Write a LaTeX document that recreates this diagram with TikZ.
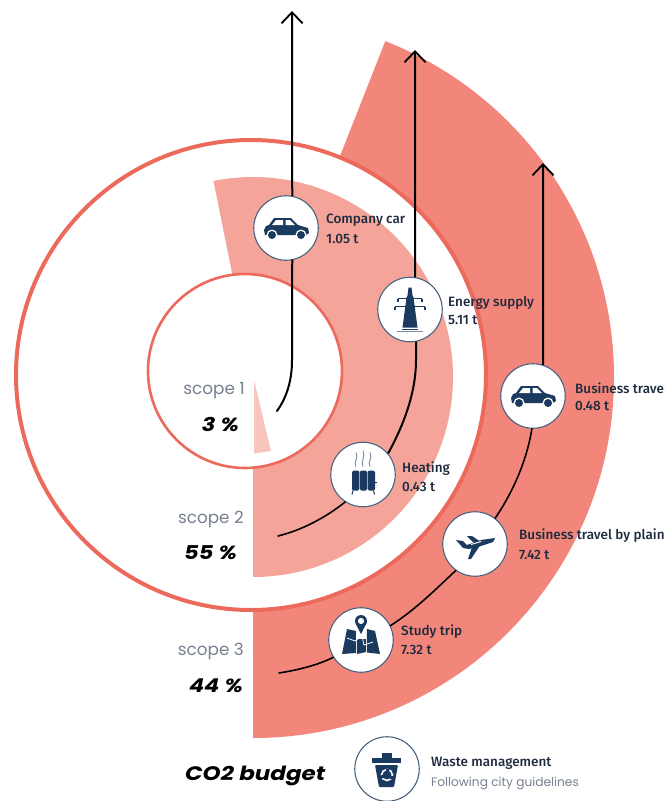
\documentclass[tikz,border=0pt]{standalone}
\usepackage{fontspec}
\usetikzlibrary{arrows.meta}
\newfontfamily\lblfont[UprightFont=* Medium]{Fira Sans}
\newfontfamily\popfont{Poppins}
\newfontfamily\popwide[FakeStretch=1.18]{Poppins}
\definecolor{navy}{HTML}{1B3A5F}
\definecolor{ringc}{HTML}{EC6A5C}
\definecolor{scopeA}{HTML}{F8C4BE}
\definecolor{scopeB}{HTML}{F5A49A}
\definecolor{scopeC}{HTML}{F3867A}
\definecolor{greytxt}{HTML}{76808F}
\definecolor{lbltxt}{HTML}{1E2B3E}
\tikzset{
  badge/.style={circle,draw=navy!80!white,line width=1.1pt,fill=white,minimum size=64.5pt,inner sep=0pt},
  lbl/.style={anchor=base west,inner sep=0pt,text=lbltxt,font=\lblfont\fontsize{13.5}{13.5}\selectfont},
  scopelbl/.style={anchor=base east,inner sep=0pt,text=greytxt,font=\popfont\fontsize{16.8}{16.8}\selectfont},
  pct/.style={anchor=base east,inner sep=0pt,text=black,font=\popwide\bfseries\itshape\fontsize{19}{19}\selectfont},
  thickline/.style={draw=black,line width=2pt},
  thinline/.style={draw=black,line width=1.6pt,line cap=round},
  arrowline/.style={thickline,-{Straight Barb[length=11pt,width=21pt,line width=1.8pt]}},
  carIcon/.pic={
    \fill[navy] (-22,2) -- (-20,-2) -- (-17,-3) -- (-12,-10) -- (5,-10) -- (12,-3) -- (22,0) -- (23,5) -- (20,7) -- (-21,7) -- cycle;
    \fill[white] (-10,-8) -- (-3,-8) -- (-3,-3) -- (-14,-3) -- cycle;
    \fill[white] (-0.5,-8) -- (4,-8) -- (9,-3) -- (-0.5,-3) -- cycle;
    \fill[white] (-14,7) circle[radius=5.5] (15,7) circle[radius=5.5];
    \fill[navy] (-14,7) circle[radius=4] (15,7) circle[radius=4];
  },
  pylonIcon/.pic={
    \fill[navy] (-1.5,-22) -- (1.5,-22) -- (2.5,-14) -- (3.5,-12) -- (7.5,18) -- (-7.5,18) -- (-3.5,-12) -- (-2.5,-14) -- cycle;
    \draw[navy,line width=1.2pt] (-12,-11) -- (12,-11) (-12,-11) -- (-12,-8) (12,-11) -- (12,-8)
      (-15,-3) -- (15,-3) (-15,-3) -- (-15,0) (15,-3) -- (15,0);
    \draw[navy!60!white,line width=1pt] (-13,21.5) -- (13,21.5);
    \draw[navy,line width=1pt] (-8,19.5) -- (8,19.5);
  },
  radIcon/.pic={
    \fill[navy,rounded corners=1.5pt] (-11,-4) rectangle (-3.6,16);
    \fill[navy,rounded corners=1.5pt] (-3.2,-4) rectangle (4.2,16);
    \fill[navy,rounded corners=1.5pt] (4.6,-4) rectangle (12,16);
    \draw[navy,line width=1pt] (-10,16) -- (-11,20) (10.5,16) -- (11.5,20) (12,8) -- (14,8);
    \draw[navy!55!white,line width=1pt] (-7,-8) .. controls (-10,-12) and (-4,-16) .. (-7,-22)
      (0,-8) .. controls (-3,-12) and (3,-18) .. (0,-24)
      (7,-8) .. controls (4,-12) and (10,-16) .. (7,-22);
  },
  planeIcon/.pic={
    \fill[navy] (-19,-4) -- (-12,-3) -- (-8,1) -- (6,-4) -- (20,-6) -- (18,-2) -- (6,2) -- (-6,5) -- (-12,4) -- cycle;
    \fill[navy] (-8,-8) -- (-3,-8) -- (6,-2) -- (0,0) -- cycle;
    \fill[navy] (-3,3) -- (6,0) -- (-4,15) -- (-7,15) -- cycle;
    \fill[white] (-4,0) -- (6,-3) -- (6,-2) -- (-4,1) -- cycle;
  },
  mapIcon/.pic={
    \fill[navy] (-14,-11) -- (-5,-9) -- (-5,13) -- (-19,14) -- cycle;
    \fill[navy] (-4,-9) -- (5,-11) -- (5,12) -- (-4,14) -- cycle;
    \fill[navy] (6,-11) -- (14,-9) -- (19,14) -- (6,12.5) -- cycle;
    \draw[white,line width=0.8pt] (-14,-2) -- (-6,1) -- (1,-4) -- (3,5) -- (12,2);
    \fill[white] (-5,-12) rectangle (5,-1);
    \fill[navy,even odd rule] (0,-19) circle[radius=6] (0,-19) circle[radius=3];
    \fill[navy] (-5.3,-16.5) -- (5.3,-16.5) -- (0,-6) -- cycle;
    \fill[white] (0,-19) circle[radius=3];
  },
  binIcon/.pic={
    \fill[navy] (-15,-11) rectangle (14,-6);
    \fill[navy] (-5,-16) rectangle (5,-10);
    \fill[navy,rounded corners=1pt] (-12,-4) -- (11,-4) -- (7,18) -- (-8,18) -- cycle;
    \draw[white,line width=1.6pt] (0,6) circle[radius=5.5];
    \fill[navy] (-1,0) rectangle (2,2) (-6,6) rectangle (-3,9) (3,7) rectangle (6,10);
  }
}
\begin{document}
\begin{tikzpicture}[x=1pt,y=-1pt]
\useasboundingbox (0,0) rectangle (669,801);
% coordinates
\coordinate (cRings) at (253,377);
\coordinate (carTip) at (292,11);
\coordinate (energyTip) at (415,50);
\coordinate (bizTip) at (543,163);
\coordinate (carEnd) at (277,411);
\coordinate (heatEnd) at (278,536);
\coordinate (tripEnd) at (279,673);
% scope wedges
\fill[scopeC] (cRings) -- (253,738) arc[start angle=90,end angle=-68.5,radius=361] -- cycle;
\fill[white] (251,375) circle[radius=236];
\fill[scopeB] (cRings) -- (253,577) arc[start angle=90,end angle=-101.4,radius=200] -- cycle;
\draw[ringc,line width=4pt] (251,375) circle[radius=235];
\fill[white] (245,371) circle[radius=97];
\draw[ringc,line width=2.6pt] (245,371) circle[radius=97];
\fill[scopeA] (254,380) -- (271,451) -- (254,453.5) -- cycle;
% badges
\node[badge] (car) at (286,228) {};
\node[badge] (energy) at (410,309.5) {};
\node[badge] (heat) at (363,474.5) {};
\node[badge] (biz) at (533,396) {};
\node[badge] (plane) at (475,544) {};
\node[badge] (trip) at (361,640) {};
\node[badge] (waste) at (387,769) {};
% connectors
\draw[arrowline] (car.79) -- (carTip);
\draw[thickline,line cap=round] (car.-79) -- (292,360) .. controls (292,380) and (287,397) .. (carEnd);
\draw[arrowline] (energy.81) -- (energyTip);
\draw[thickline] (energy.-79) -- (416,360) .. controls (416,395) and (402,428) .. (heat.40);
\draw[thinline] (heat.237) .. controls (325,518) and (302,530) .. (heatEnd);
\draw[arrowline] (biz.72) -- (bizTip);
\draw[thinline] (biz.-92) .. controls (527,460) and (513,492) .. (plane.52);
\draw[thinline] (plane.234) .. controls (435,590) and (415,610) .. (trip.26);
\draw[thinline] (trip.212) .. controls (318,665) and (298,670) .. (tripEnd);
% icons
\pic at (car) {carIcon};
\pic at (energy) {pylonIcon};
\pic at (heat) {radIcon};
\pic at (biz) {carIcon};
\pic at (plane) {planeIcon};
\pic at (trip) {mapIcon};
\pic at (waste) {binIcon};
% labels
\node[lbl] (l1) at (326,223) {Company car};
\node[lbl] (l1b) at (326,243) {1.05 t};
\node[lbl] (l2) at (448,306) {Energy supply};
\node[lbl] (l2b) at (448,324) {5.11 t};
\node[lbl] (l3) at (402,472) {Heating};
\node[lbl] (l3b) at (402,491) {0.43 t};
\begin{scope}
\clip (0,0) rectangle (664,801);
\node[lbl] (l4) at (575,393) {Business travel};
\node[lbl] (l5) at (519,539) {Business travel by plain};
\end{scope}
\node[lbl] (l4b) at (575,410) {0.48 t};
\node[lbl] (l5b) at (519,559) {7.42 t};
\node[lbl] (l6) at (401,635) {Study trip};
\node[lbl] (l6b) at (401,654) {7.32 t};
\node[lbl] (l7) at (431,766) {Waste management};
\node[lbl,text=greytxt,font=\popfont\fontsize{12.2}{12.2}\selectfont] (l7b) at (431,786) {Following city guidelines};
\node[scopelbl] (s1) at (245,394) {scope 1};
\node[pct] (p1) at (239,431) {3 \%};
\node[scopelbl] (s2) at (244,523) {scope 2};
\node[pct] (p2) at (237,559) {55 \%};
\node[scopelbl] (s3) at (244,655) {scope 3};
\node[pct] (p3) at (243,692) {44 \%};
\node[anchor=base west,inner sep=0pt,font=\popwide\bfseries\itshape\fontsize{19.5}{19.5}\selectfont] (title) at (185,780) {CO2 budget};
\end{tikzpicture}
\end{document}
